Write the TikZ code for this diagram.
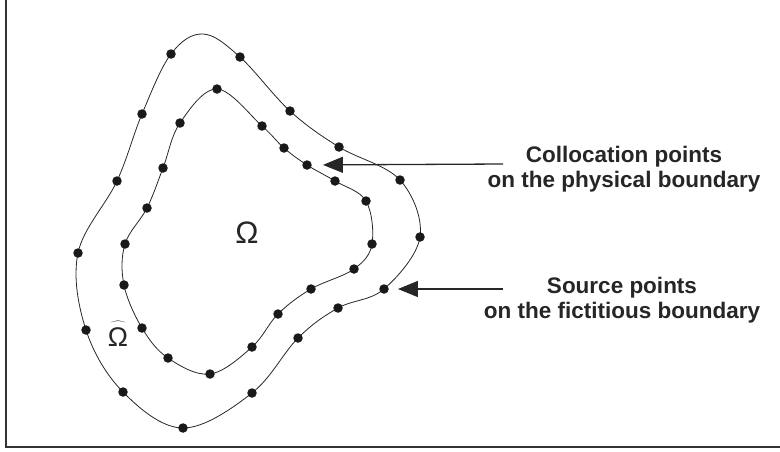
\documentclass[tikz,border=0pt]{standalone}
\usepackage{fontspec}
\setmainfont{Liberation Sans}
\usetikzlibrary{arrows.meta}
\begin{document}
\begin{tikzpicture}[x=1pt,y=-1pt,
  curve/.style={line width=0.8pt, draw=black!85},
  dot/.style={circle, fill=black!90, inner sep=0pt, minimum size=9.5pt},
  lbl/.style={font=\bfseries\fontsize{22.5}{25}\selectfont, align=center, text=black!85, inner sep=0pt},
  pointer/.style={line width=1.3pt, draw=black!85, -{Triangle[length=20pt,width=16pt]}},
  frame/.style={line width=2pt, draw=black!80}]
\useasboundingbox (0,0) rectangle (780,451);
\draw[frame] (6,0) -- (6,447) -- (780,447);
% outer (fictitious) boundary
\draw[curve] plot[smooth cycle, tension=0.6] coordinates {(171,54) (203,34) (240,57) (290,111) (339,147) (400,180) (420,237) (384,289) (338,308) (298,338) (252,393) (183,428) (123,392) (86,330) (78,253) (117,181) (142,114)};
% inner (physical) boundary
\draw[curve] plot[smooth cycle, tension=0.6] coordinates {(217,89) (262,126) (284,148) (307,165) (335,181) (366,201) (372,244) (354,269) (311,289) (278,314) (252,347) (210,374) (168,358) (142,328) (124,285) (125,244) (147,208) (163,168) (180,123)};
% source points
\foreach \p [count=\k] in {(171,54),(240,57),(290,111),(339,147),(400,180),(420,237),(384,289),(338,308),(298,338),(252,393),(183,428),(123,392),(86,330),(78,253),(117,181),(142,114)}
  \node[dot] (s\k) at \p {};
% collocation points
\foreach \p [count=\k] in {(217,89),(262,126),(284,148),(307,165),(335,181),(366,201),(372,244),(354,269),(311,289),(278,314),(252,347),(210,374),(168,358),(142,328),(124,285),(125,244),(147,208),(163,168),(180,123)}
  \node[dot] (c\k) at \p {};
% labels
\node[font=\fontsize{31}{31}\selectfont, text=black!85, inner sep=0pt] (omega) at (247,233) {Ω};
\node[text=black!85, inner sep=0pt] (omegahat) at (118,334) {$\widehat{\hbox{\vrule height 22pt width 0pt\fontsize{27}{27}\selectfont Ω}}$};
\node[lbl] (coll) at (624,169) {Collocation points\\on the physical boundary};
\node[lbl] (src) at (622,300) {Source points\\on the fictitious boundary};
\coordinate (ca) at (503,164);
\coordinate (sa) at (503,289);
\draw[pointer, shorten >=11pt] (ca) -- (c4);
\draw[pointer, shorten >=9pt] (sa) -- (s7);
\end{tikzpicture}
\end{document}
